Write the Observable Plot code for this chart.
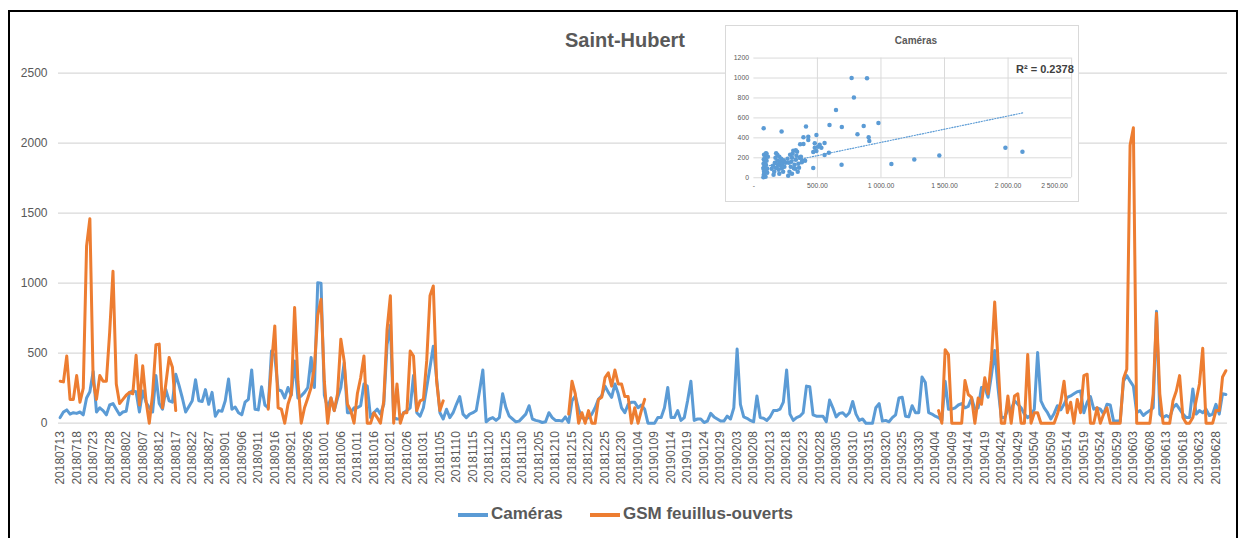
<!DOCTYPE html>
<html><head><meta charset="utf-8">
<script src="https://cdn.jsdelivr.net/npm/d3@7"></script>
<script src="https://cdn.jsdelivr.net/npm/@observablehq/plot@0.6"></script>
<style>
body{margin:0;background:#fff;font-family:"Liberation Sans",Arial,sans-serif;}
#wrap{position:relative;width:1245px;height:538px;overflow:hidden;background:#fff;}
#frame{position:absolute;left:8px;top:10px;width:1230px;height:540px;border:2px solid #000;box-sizing:border-box;}
#title{position:absolute;left:0;width:1250px;top:29px;text-align:center;font-weight:bold;font-size:20px;color:#595959;}
#main{position:absolute;left:0;top:0;}
.leg{position:absolute;font-weight:bold;font-size:17px;color:#595959;white-space:nowrap;}
.sw{position:absolute;height:4px;}
#inset{position:absolute;left:725px;top:25px;width:354px;height:177px;box-sizing:border-box;border:1px solid #d9d9d9;background:#fff;overflow:hidden;}
#insetTitle{position:absolute;left:0;width:380px;top:9px;text-align:center;font-weight:bold;font-size:10px;color:#595959;}
#r2{position:absolute;left:290px;top:37px;font-weight:bold;font-size:11px;color:#404040;}
#insetPlot{position:absolute;left:0;top:0;}
</style></head>
<body>
<div id="wrap">
  <div id="frame"></div>
  <div id="main"></div>
  <div id="title">Saint-Hubert</div>
  <div class="sw" style="left:458px;top:513px;width:30px;background:#5B9BD5"></div>
  <div class="leg" style="left:491px;top:504px">Caméras</div>
  <div class="sw" style="left:590px;top:513px;width:30px;background:#ED7D31"></div>
  <div class="leg" style="left:623px;top:504px">GSM feuillus-ouverts</div>
  <div id="inset">
    <div id="insetPlot"></div>
    <div id="insetTitle">Caméras</div>
    <div id="r2">R² = 0.2378</div>
  </div>
</div>
<script>
// ---- main series (daily, 2018-07-13 .. 2019-07-01) ----
const startDate = "2018-07-13";
const tickLabels = ["20180713","20180718","20180723","20180728","20180802","20180807","20180812","20180817","20180822","20180827","20180901","20180906","20180911","20180916","20180921","20180926","20181001","20181006","20181011","20181016","20181021","20181026","20181031","20181105","20181110","20181115","20181120","20181125","20181130","20181205","20181210","20181215","20181220","20181225","20181230","20190104","20190109","20190114","20190119","20190124","20190129","20190203","20190208","20190213","20190218","20190223","20190228","20190305","20190310","20190315","20190320","20190325","20190330","20190404","20190409","20190414","20190419","20190424","20190429","20190504","20190509","20190514","20190519","20190524","20190529","20190603","20190608","20190613","20190618","20190623","20190628"];

const cameras = [
40,80,95,65,75,70,80,60,180,225,370,80,110,90,60,130,140,100,60,80,
85,220,230,225,80,230,150,110,80,340,140,100,240,160,150,350,270,180,80,120,
160,310,160,155,240,135,220,50,90,85,160,315,100,115,75,60,150,170,380,100,
95,260,130,110,515,480,240,230,180,255,200,445,180,195,220,255,470,255,1003,1000,
200,110,180,90,180,255,430,75,75,110,110,125,280,265,40,75,100,65,135,560,
700,40,30,30,75,90,110,340,75,50,110,255,400,550,320,75,30,100,40,75,
135,190,65,40,65,75,90,230,380,10,30,40,20,40,210,110,50,30,10,15,
40,65,125,30,20,15,5,10,75,40,20,20,15,45,5,160,195,100,40,30,
40,65,110,170,195,265,220,185,280,210,110,75,135,150,150,110,130,100,0,0,
0,40,40,110,255,40,40,90,20,40,160,300,20,30,30,5,15,70,45,30,
15,15,50,30,110,530,135,45,35,20,10,195,40,35,20,45,90,90,100,150,
380,65,20,40,50,75,265,260,60,50,50,50,10,165,110,45,70,75,50,75,
155,65,20,30,0,0,0,110,140,15,20,10,40,60,180,185,50,45,125,75,
75,330,290,75,65,50,40,20,300,100,100,110,130,140,110,120,180,100,110,255,
255,185,340,520,255,40,40,100,100,160,135,110,65,40,60,100,505,160,110,75,
30,70,125,95,135,185,195,210,225,230,75,150,190,100,110,100,65,135,130,15,
15,15,300,340,300,265,75,90,55,75,90,110,800,65,40,55,40,110,135,100,
65,40,40,245,65,90,75,100,55,65,135,65,210,205
];

const gsm = [
300,295,480,170,170,340,150,250,1265,1460,300,170,340,300,300,650,1085,280,140,170,
200,220,210,485,130,410,160,0,210,560,565,110,280,470,400,90,null,null,null,null,
null,null,null,null,null,null,null,null,null,null,null,null,null,null,null,null,null,null,null,null,
null,null,null,100,420,695,110,100,0,135,210,826,300,0,110,180,255,400,770,885,
300,0,180,90,210,600,445,135,90,0,210,325,480,0,0,75,40,0,160,670,
910,0,280,0,75,75,515,480,90,160,170,445,910,980,300,90,160,null,null,null,
null,null,null,null,null,null,null,null,null,null,null,null,null,null,null,null,null,null,null,null,
null,null,null,null,null,null,null,null,null,null,null,null,null,null,65,300,210,0,75,0,
90,0,0,170,185,325,360,265,380,280,280,190,190,0,110,0,90,170,null,null,
null,null,null,null,null,null,null,null,null,null,null,null,null,null,null,null,null,null,null,null,
null,null,null,null,null,null,null,null,null,null,null,null,null,null,null,null,null,null,null,null,
null,null,null,null,null,null,null,null,null,null,null,null,null,null,null,null,null,null,null,null,
null,null,null,null,null,null,null,null,null,null,null,null,null,null,null,null,null,null,null,null,
null,null,null,null,null,null,90,0,525,490,0,0,0,0,305,205,185,0,180,135,
325,210,450,865,450,0,0,195,0,195,210,0,0,490,0,75,75,0,0,0,
0,0,65,150,300,75,150,0,170,75,340,350,0,0,110,0,65,110,0,0,
0,0,320,385,1985,2110,0,0,0,0,0,210,785,210,0,0,0,160,230,340,
40,0,0,40,160,280,535,0,0,0,90,90,330,375
];

const yTicks = [0,500,1000,1500,2000,2500];

// ---- inset scatter (GSM feuillus-ouverts vs Caméras) ----
const scatterGsm = [77,218,769,890,787,646,410,595,692,864,980,815,903,908,492,390,428,428,364,390,556,518,531,479,505,479,492,467,556,590,467,690,1082,1262,1459,1979,2113,403,377,
75,78,80,75,82,76,85,78,90,80,95,100,105,88,95,100,110,85,92,105,
140,150,160,165,170,175,180,185,190,195,200,205,210,215,220,225,230,235,240,250,155,185,200,170,
270,280,290,295,300,305,310,320,325,330,335,340,345,350,360,285,300,315,330,370,380,355,275,265];
const scatterCam = [497,464,1000,997,805,680,515,530,510,520,548,435,405,368,428,405,410,378,335,338,348,330,300,345,310,300,268,258,228,250,98,131,137,182,222,300,260,170,155,
5,30,60,90,115,140,160,185,200,230,245,240,90,75,130,170,210,45,10,50,
90,120,60,150,200,245,100,170,130,80,210,160,120,190,95,140,60,175,110,150,30,230,40,100,
20,60,110,160,200,240,270,130,90,180,220,260,60,140,200,230,40,95,275,210,170,100,150,190];
const trendGsm = [60, 2115];
const trendCam = [105, 650];
const insetYTicks = [0,200,400,600,800,1000,1200];
const insetXTicks = [0,500,1000,1500,2000,2500];
const insetXLabels = ["-","500.00","1 000.00","1 500.00","2 000.00","2 500.00"];

// ---- build ----
const rows = cameras.map((v, i) => ({i, cam: v, gsm: gsm[i]}));
const tickIdx = tickLabels.map((_, k) => k * 5);

const main = Plot.plot({
  width: 1245, height: 510,
  marginLeft: 58, marginRight: 18, marginTop: 72.7, marginBottom: 87.3,
  x: {domain: [-0.5, cameras.length - 0.5]},
  y: {domain: [0, 2500]},
  style: {background: "transparent", fontFamily: "Liberation Sans, Arial, sans-serif", color: "#595959"},
  marks: [
    Plot.gridY(yTicks, {stroke: "#d9d9d9", strokeOpacity: 1, strokeWidth: 1.3}),
    Plot.axisY(yTicks, {tickFormat: (d) => String(d), tickSize: 0, tickPadding: 11, fontSize: 12, label: null, fill: "#595959"}),
    Plot.axisX(tickIdx, {tickFormat: (d) => tickLabels[d / 5], tickRotate: -90, tickSize: 0, tickPadding: 8, fontSize: 12, label: null, fill: "#595959"}),
    Plot.line(rows, {x: "i", y: "cam", stroke: "#5B9BD5", strokeWidth: 3, strokeLinejoin: "round", strokeLinecap: "round"}),
    Plot.line(rows, {x: "i", y: "gsm", stroke: "#ED7D31", strokeWidth: 3, strokeLinejoin: "round", strokeLinecap: "round"})
  ]
});
document.getElementById("main").appendChild(main);

const pts = scatterGsm.map((g, k) => ({g, c: scatterCam[k]}));
const trend = trendGsm.map((g, k) => ({g, c: trendCam[k]}));
const xLab = (d) => insetXLabels[insetXTicks.indexOf(d)];
const inset = Plot.plot({
  width: 360, height: 176,
  marginLeft: 28, marginRight: 7, marginTop: 32.3, marginBottom: 21.3,
  x: {domain: [0, 2500]},
  y: {domain: [0, 1200]},
  style: {background: "transparent", fontFamily: "Liberation Sans, Arial, sans-serif", color: "#595959"},
  marks: [
    Plot.gridY(insetYTicks, {stroke: "#d9d9d9", strokeOpacity: 1}),
    Plot.gridX(insetXTicks.slice(1), {stroke: "#d9d9d9", strokeOpacity: 1}),
    Plot.axisY(insetYTicks, {tickFormat: (d) => String(d), tickSize: 0, tickPadding: 5, fontSize: 7, label: null, fill: "#595959"}),
    Plot.axisX(insetXTicks.slice(0, 5), {tickFormat: xLab, tickSize: 0, tickPadding: 6, fontSize: 7, label: null, fill: "#595959"}),
    Plot.axisX(insetXTicks.slice(5), {tickFormat: xLab, tickSize: 0, tickPadding: 6, fontSize: 7, label: null, fill: "#595959", textAnchor: "end", dx: -4}),
    Plot.line(trend, {x: "g", y: "c", stroke: "#5B9BD5", strokeWidth: 1.2, strokeDasharray: "1.2,1.6"}),
    Plot.dot(pts, {x: "g", y: "c", r: 2.3, fill: "#5B9BD5", stroke: "none"})
  ]
});
document.getElementById("insetPlot").appendChild(inset);
</script>
</body></html>
